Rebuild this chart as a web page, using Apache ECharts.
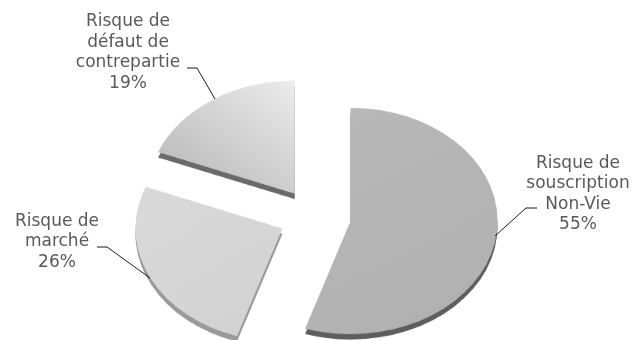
<!DOCTYPE html>
<html>
<head>
<meta charset="utf-8">
<script src="https://cdn.jsdelivr.net/npm/echarts@6/dist/echarts.min.js"></script>
<style>
  html, body { margin: 0; padding: 0; background: #fff; }
  #wrap { position: relative; width: 637px; height: 340px; overflow: hidden; }
  #pie { position: absolute; left: 0; top: 0; width: 637px; height: 441.6px; transform: scaleY(0.77); transform-origin: 0 0; }
  #labels { position: absolute; left: 0; top: 0; width: 637px; height: 340px; }
</style>
</head>
<body>
<div id="wrap">
  <div id="pie"></div>
  <div id="labels"></div>
</div>
<script>
// ---- data ----
var categories = ['Risque de\nsouscription\nNon-Vie', 'Risque de\nmarché', 'Risque de\ndéfaut de\ncontrepartie'];
var values = [55, 26, 19];

// ---- styles ----
var topColors = [
  new echarts.graphic.LinearGradient(0, 0, 1, 1, [{offset: 0, color: '#b9b9b9'}, {offset: 1, color: '#b0b0b0'}]),
  new echarts.graphic.LinearGradient(0, 0, 1, 1, [{offset: 0, color: '#dadada'}, {offset: 1, color: '#d2d2d2'}]),
  new echarts.graphic.LinearGradient(1, 0, 0, 1, [{offset: 0, color: '#ececec'}, {offset: 1, color: '#b4b4b4'}])
];
var sideColors = ['#5e5e5e', '#9a9a9a', '#6a6a6a'];

function pieData(colorArr) {
  return categories.map(function (c, i) {
    return { name: c, value: values[i], selected: true, itemStyle: { color: colorArr[i] } };
  });
}

var pieChart = echarts.init(document.getElementById('pie'), null, { renderer: 'canvas' });
var cx = 315, cy = 281.3, R = 147, off = 36;
pieChart.setOption({
  animation: false,
  series: [
    {
      type: 'pie', z: 1, center: [cx, cy + 7], radius: R, startAngle: 90, clockwise: true,
      selectedMode: 'multiple', selectedOffset: off, silent: true,
      label: { show: false }, labelLine: { show: false },
      data: pieData(sideColors)
    },
    {
      type: 'pie', z: 2, center: [cx, cy], radius: R, startAngle: 90, clockwise: true,
      selectedMode: 'multiple', selectedOffset: off, silent: true,
      label: { show: false }, labelLine: { show: false },
      data: pieData(topColors)
    }
  ]
});

// label placement (screen px)
var labelPos = [[578, 194], [57, 242], [128, 52.5]];
var linePts = [
  [[537, 208], [526, 208], [495, 236]],
  [[97, 247], [107, 247], [150, 278]],
  [[187, 68], [197, 68], [215, 99]]
];

var labelChart = echarts.init(document.getElementById('labels'), null, { renderer: 'canvas' });
labelChart.setOption({
  animation: false,
  series: [{
    type: 'pie', center: [cx, 216.6], radius: 113, startAngle: 90, silent: true,
    itemStyle: { color: 'rgba(0,0,0,0)' },
    label: {
      show: true, position: 'outside', formatter: '{b}\n{d}%',
      fontFamily: 'DejaVu Sans', fontSize: 17, lineHeight: 20.5, color: '#595959', align: 'center'
    },
    labelLine: { show: true, lineStyle: { color: '#1a1a1a', width: 1 } },
    labelLayout: function (p) {
      var i = p.dataIndex;
      return { x: labelPos[i][0], y: labelPos[i][1], align: 'center', verticalAlign: 'middle', labelLinePoints: linePts[i] };
    },
    data: categories.map(function (c, i) { return { name: c, value: values[i] }; })
  }]
});
</script>
</body>
</html>
